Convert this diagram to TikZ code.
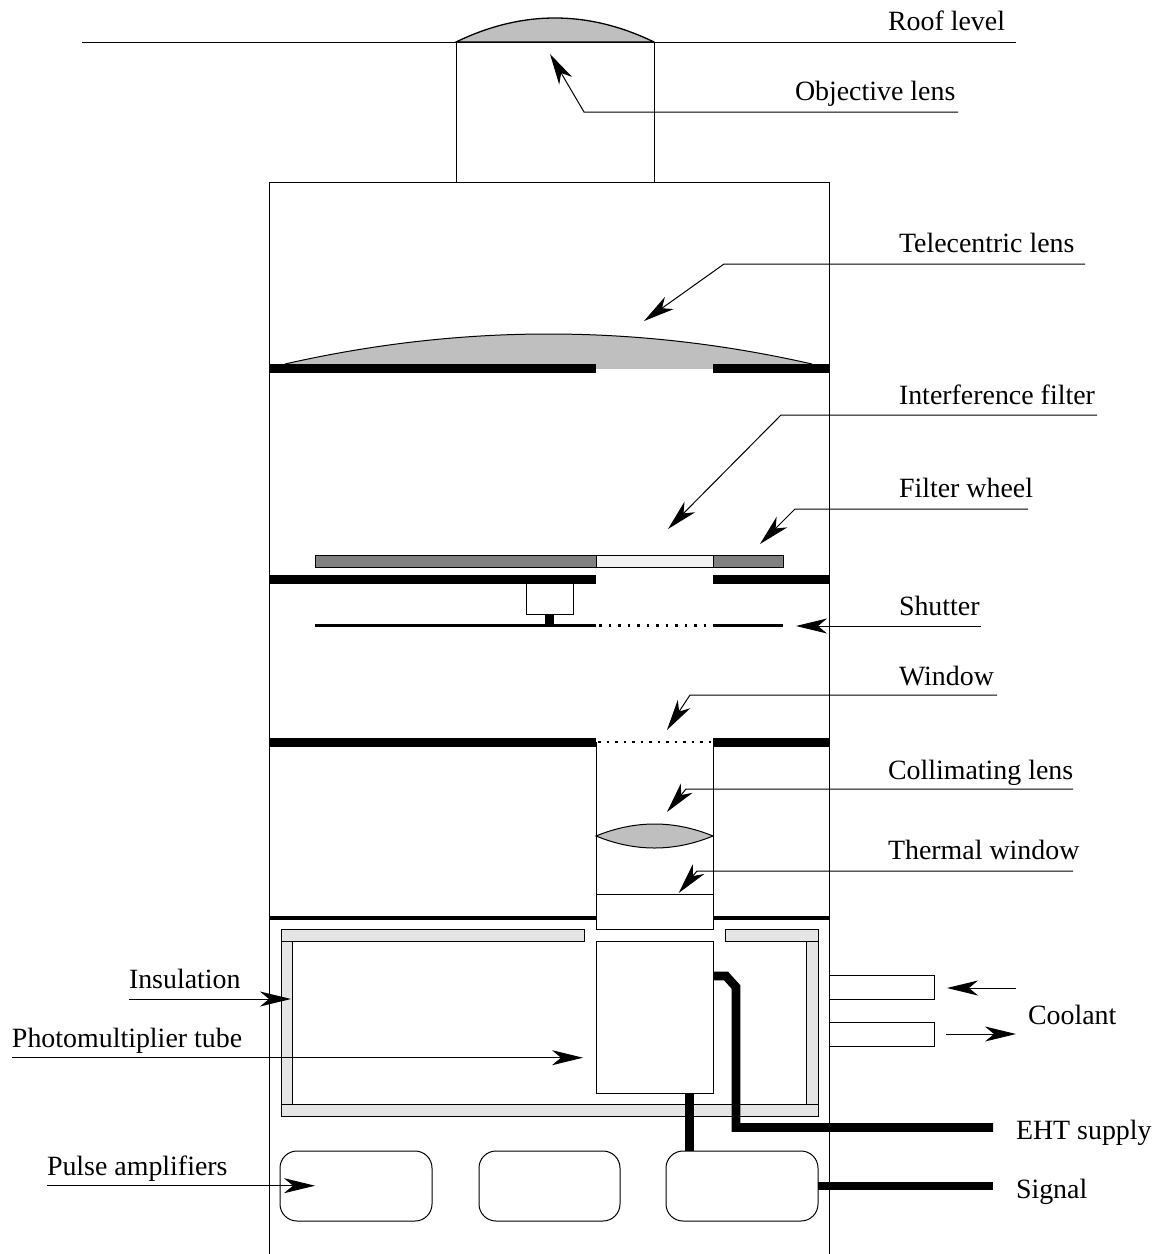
\documentclass[tikz,border=0pt]{standalone}
\usepackage{fontspec}
\setmainfont{Liberation Serif}
\usetikzlibrary{arrows.meta}
\tikzset{
  thin line/.style={line width=1pt,draw=black},
  lab/.style={anchor=base west,inner sep=0pt,outer sep=0pt,font=\fontsize{27.9}{30}\selectfont},
  leader/.style={thin line,-{Stealth[length=31pt,width=15pt,inset=9pt]}},
  plainrule/.style={thin line},
  bar/.style={fill=black,draw=none},
  wire/.style={line width=8.8pt,draw=black,miter limit=10},
  box/.style={thin line,fill=white,rectangle,inner sep=0pt,outer sep=0pt},
  amp/.style={box,rounded corners=17pt},
  insul/.style={thin line,fill=black!10},
  lensfill/.style={thin line,fill=black!25},
}
\begin{document}
\begin{tikzpicture}[x=1pt,y=-1pt]
\useasboundingbox (0,0) rectangle (1159,1254);
% labels
\node[lab] (roof) at (888,30) {Roof level};
\node[lab] (objective) at (795,100) {Objective lens};
\node[lab] (telecentric) at (899,252) {Telecentric lens};
\node[lab] (interference) at (899,404) {Interference filter};
\node[lab] (wheel) at (899,497) {Filter wheel};
\node[lab] (shutter) at (899,615) {Shutter};
\node[lab] (window) at (899,685) {Window};
\node[lab] (collimating) at (888,779) {Collimating lens};
\node[lab] (thermal) at (888,859) {Thermal window};
\node[lab] (insulation) at (129,988) {Insulation};
\node[lab] (pmtlab) at (12,1047) {Photomultiplier tube};
\node[lab] (pulse) at (47,1175) {Pulse amplifiers};
\node[lab] (coolant) at (1028,1024) {Coolant};
\node[lab] (eht) at (1016,1139) {EHT supply};
\node[lab] (signal) at (1016,1198) {Signal};
% roof and objective
\draw[plainrule] (82,42) -- (1016,42);
\draw[lensfill,line width=1.3pt] (456,42) .. controls (522,10) and (588,10) .. (654,42) -- cycle;
\draw[thin line] (456,42) rectangle (654,182);
% housing
\draw[thin line] (269,1254) -- (269,182) -- (829,182) -- (829,1254);
% telecentric lens
\fill[black!25] (596,360) rectangle (713,369);
\fill[black!25] (285,364) .. controls (461,324) and (636,324) .. (812,364) -- cycle;
\draw[thin line] (285,364) .. controls (461,324) and (636,324) .. (812,364);
\fill[bar] (269,364) rectangle (596,373);
\fill[bar] (713,364) rectangle (829,373);
% filter wheel
\draw[thin line,fill=black!50] (315,555) rectangle (596,567);
\draw[thin line,fill=black!5] (596,555) rectangle (713,567);
\draw[thin line,fill=black!50] (713,555) rectangle (783,567);
\fill[bar] (269,574.5) rectangle (596,583.5);
\fill[bar] (713,574.5) rectangle (829,583.5);
% shutter
\draw[thin line] (526,583) rectangle (573,614);
\fill[bar] (545,614) rectangle (554,626);
\draw[line width=2.4pt] (315,625.5) -- (596,625.5);
\draw[line width=2.4pt,dash pattern=on 2.5pt off 7pt] (599,625.5) -- (711,625.5);
\draw[line width=2.4pt] (713,625.5) -- (783,625.5);
% window
\fill[bar] (269,737.5) rectangle (596,747);
\fill[bar] (713,737.5) rectangle (829,747);
\draw[line width=1.2pt,dash pattern=on 2.5pt off 6pt] (598,742) -- (713,742);
% collimating tube
\fill[bar] (269,915.5) rectangle (829,919.5);
\draw[box] (596,894) rectangle (713,929.5);
\draw[thin line] (596,742) -- (596,894) (713,742) -- (713,894);
\draw[lensfill] (596,836) .. controls (635,820) and (674,820) .. (713,836)
  .. controls (674,852) and (635,852) .. (596,836) -- cycle;
% insulation
\draw[insul] (281,941) rectangle (292,1104);
\draw[insul] (806,941) rectangle (818,1104);
\draw[insul] (281,929) rectangle (584.5,941);
\draw[insul] (725,929) rectangle (818,941);
\draw[insul] (281,1104.5) rectangle (818,1116);
% coolant pipes
\node[box,minimum width=105.5pt,minimum height=23.6pt,anchor=north west] (pipein) at (829,975.7) {};
\node[box,minimum width=105.5pt,minimum height=23.6pt,anchor=north west] (pipeout) at (829,1022.7) {};
\draw[thin line] (829,970) -- (829,1050);
% photomultiplier and amplifiers
\node[box,minimum width=117pt,minimum height=152pt,anchor=north west] (pmt) at (596,941) {};
\node[amp,minimum width=152pt,minimum height=70pt,anchor=north west] (ampa) at (280,1151) {};
\node[amp,minimum width=141pt,minimum height=70pt,anchor=north west] (ampb) at (479,1151) {};
\node[amp,minimum width=152pt,minimum height=70pt,anchor=north west] (ampc) at (666,1151) {};
% wires
\coordinate (ehtend) at (993,1127.5);
\coordinate (sigend) at (993,1186);
\draw[wire] (pmt.east |- 0,976) -- (726,976) -- (736,987) -- (736,1127.5) -- (ehtend);
\draw[wire] (pmt.south -| 689.3,0) -- (ampc.north -| 689.3,0);
\draw[wire] (ampc.east) -- (sigend);
% leaders
\coordinate (objS) at (958,112);
\coordinate (objB) at (584,112);
\coordinate (objT) at (550,54);
\draw[leader] (objS) -- (objB) -- (objT);
\coordinate (telS) at (1085,264);
\coordinate (telB) at (724,264);
\coordinate (telT) at (644,321);
\draw[leader] (telS) -- (telB) -- (telT);
\coordinate (intS) at (1097,415);
\coordinate (intB) at (781,415);
\coordinate (intT) at (668,529);
\draw[leader] (intS) -- (intB) -- (intT);
\coordinate (whS) at (1028,509);
\coordinate (whB) at (795,509);
\coordinate (whT) at (760,544);
\draw[leader] (whS) -- (whB) -- (whT);
\coordinate (shS) at (981,626);
\coordinate (shT) at (796,626);
\draw[leader] (shS) -- (shT);
\coordinate (winS) at (997,695);
\coordinate (winB) at (690,695);
\coordinate (winT) at (667,730);
\draw[leader] (winS) -- (winB) -- (winT);
\coordinate (colS) at (1073,789);
\coordinate (colB) at (686,789);
\coordinate (colT) at (667,812);
\draw[leader] (colS) -- (colB) -- (colT);
\coordinate (thS) at (1073,871);
\coordinate (thB) at (697,871);
\coordinate (thT) at (678.7,893);
\draw[leader] (thS) -- (thB) -- (thT);
\coordinate (insS) at (129,999);
\coordinate (insT) at (291,999);
\draw[leader] (insS) -- (insT);
\coordinate (pmS) at (12,1057.7);
\coordinate (pmT) at (583,1057.7);
\draw[leader] (pmS) -- (pmT);
\coordinate (puS) at (47,1185.7);
\coordinate (puT) at (315,1185.7);
\draw[leader] (puS) -- (puT);
\coordinate (coiS) at (1016,988);
\coordinate (coiT) at (947,988);
\draw[leader] (coiS) -- (coiT);
\coordinate (cooS) at (946,1034);
\coordinate (cooT) at (1016,1034);
\draw[leader] (cooS) -- (cooT);
\end{tikzpicture}
\end{document}
